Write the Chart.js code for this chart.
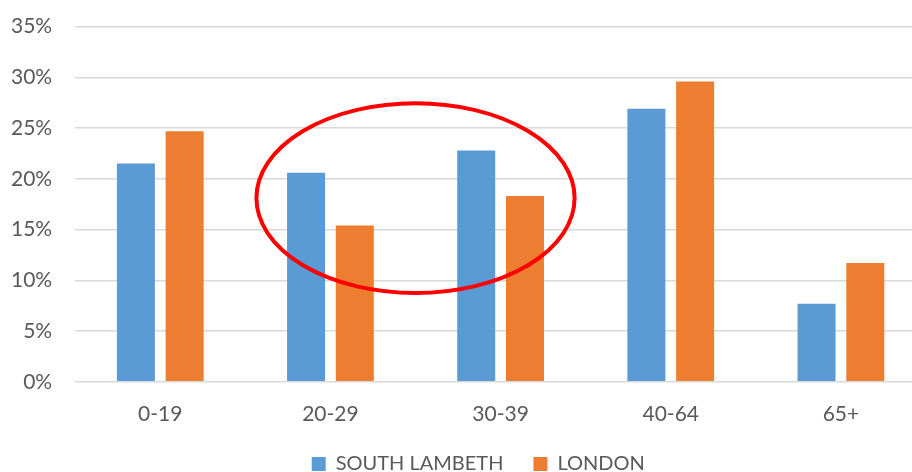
<!DOCTYPE html>
<html>
<head>
<meta charset="utf-8">
<script src="https://cdn.jsdelivr.net/npm/chart.js@4/dist/chart.umd.min.js"></script>
<style>
  html, body { margin: 0; padding: 0; background: #fff; overflow: hidden; }
  #wrap { position: relative; width: 912px; height: 472px; overflow: hidden; }
  #box { position: absolute; left: -24px; top: -9px; width: 950px; height: 516px; }
</style>
</head>
<body>
<div id="wrap"><div id="box"><canvas id="c"></canvas></div></div>
<script>
const categories = ['0-19', '20-29', '30-39', '40-64', '65+'];
const southLambeth = [21.5, 20.6, 22.8, 26.9, 7.7];
const london = [24.7, 15.4, 18.3, 29.6, 11.7];
const yMin = 0, yMax = 35, yStep = 5;
// highlighted region (between categories 20-29 and 30-39)
const highlight = { fromIndex: 1, toIndex: 2, centerValue: 18.1, halfSpanCategories: 0.935, halfSpanValue: 9.35 };

const ellipsePlugin = {
  id: 'ellipse',
  afterLayout(chart) {
    const lg = chart.legend;
    if (lg) {
      lg.left = 54.5;
      lg.top -= 23;
      lg.bottom -= 23;
    }
  },
  afterDatasetsDraw(chart) {
    const x = chart.scales.x, y = chart.scales.y;
    const x1 = x.getPixelForValue(highlight.fromIndex);
    const x2 = x.getPixelForValue(highlight.toIndex);
    const cx = (x1 + x2) / 2;
    const catW = x2 - x1;
    const cy = y.getPixelForValue(highlight.centerValue);
    const rx = catW * highlight.halfSpanCategories;
    const ry = Math.abs(y.getPixelForValue(highlight.centerValue + highlight.halfSpanValue) - cy);
    const ctx = chart.ctx;
    ctx.save();
    ctx.beginPath();
    ctx.ellipse(cx, cy, rx, ry, 0, 0, Math.PI * 2);
    ctx.strokeStyle = '#FF0000';
    ctx.lineWidth = 4;
    ctx.stroke();
    ctx.restore();
  }
};

new Chart(document.getElementById('c'), {
  type: 'bar',
  data: {
    labels: categories,
    datasets: [
      { label: 'SOUTH LAMBETH', data: southLambeth, backgroundColor: '#5B9BD5', categoryPercentage: 0.573, barPercentage: 0.78 },
      { label: 'LONDON', data: london, backgroundColor: '#ED7D31', categoryPercentage: 0.573, barPercentage: 0.78 }
    ]
  },
  options: {
    responsive: true,
    maintainAspectRatio: false,
    animation: false,
    devicePixelRatio: 1,
    layout: { padding: { left: 12, right: 0, top: 4, bottom: 0 } },
    plugins: {
      legend: {
        position: 'bottom',
        labels: {
          boxWidth: 14, boxHeight: 14, padding: 30,
          color: '#595959',
          font: { family: 'Lato', size: 20 }
        }
      },
      tooltip: { enabled: false }
    },
    scales: {
      x: {
        grid: { display: false, drawTicks: false },
        border: { display: false },
        ticks: { color: '#595959', font: { family: 'Lato', size: 21 }, padding: 20 }
      },
      y: {
        min: yMin, max: yMax,
        grid: { color: '#D9D9D9', lineWidth: 1.5, drawTicks: false },
        border: { display: false },
        ticks: {
          stepSize: yStep, padding: 23,
          color: '#595959', font: { family: 'Lato', size: 21 },
          callback: v => v + '%'
        }
      }
    }
  },
  plugins: [ellipsePlugin]
});
</script>
</body>
</html>
